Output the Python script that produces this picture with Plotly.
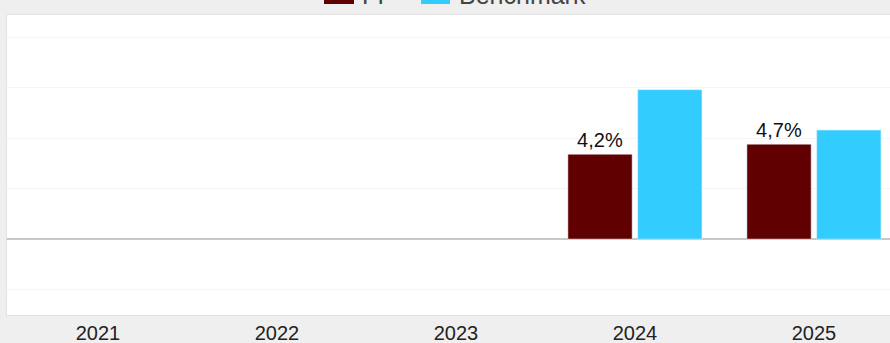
import plotly.graph_objects as go

years = ["2021", "2022", "2023", "2024", "2025"]
fund = [None, None, None, 4.2, 4.7]
benchmark = [None, None, None, 7.4, 5.4]
fund_labels = ["", "", "", "4,2%", "4,7%"]
series_names = ["FI", "Benchmark"]
series_colors = ["#600000", "#33ccff"]

fig = go.Figure()
fig.add_trace(go.Bar(x=years, y=fund, name=series_names[0], marker_color=series_colors[0],
                     text=fund_labels, textposition="outside",
                     textfont=dict(size=20, color="#111111"), cliponaxis=False))
fig.add_trace(go.Bar(x=years, y=benchmark, name=series_names[1], marker_color=series_colors[1]))

# legend sits above the plot and is mostly cut off by the top of the page
swatch_x = [(0.359, 0.393), (0.4689, 0.5017)]
label_x = [0.40, 0.5096]
for (x0, x1), lx, name, col in zip(swatch_x, label_x, series_names, series_colors):
    fig.add_shape(type="rect", xref="paper", yref="paper", x0=x0, x1=x1, y0=1.0367, y1=1.09,
                  fillcolor=col, line_width=0, layer="above")
    fig.add_annotation(xref="paper", yref="paper", x=lx, y=1.012, xanchor="left", yanchor="bottom",
                       text=name, showarrow=False, font=dict(size=25, color="#444444"))

fig.update_layout(
    width=890, height=343,
    margin=dict(l=7, r=0, t=15, b=28, autoexpand=False),
    paper_bgcolor="#efefef", plot_bgcolor="#ffffff",
    barmode="group", bargap=0.22, bargroupgap=0.08,
    font=dict(family="Arial, Liberation Sans, sans-serif", size=20, color="#222222"),
    showlegend=False,
)
fig.update_xaxes(range=[-0.508, 4.425], showgrid=False, zeroline=False, showline=True,
                 linecolor="#e2e2e2", mirror=True, ticks="", ticklabelstandoff=0,
                 tickfont=dict(size=20, color="#222222"))
fig.update_yaxes(range=[-3.76, 11.1], dtick=2.5, showticklabels=False,
                 gridcolor="#f5f5f5", zeroline=True, zerolinecolor="#c8c8c8", zerolinewidth=1.5,
                 showline=True, linecolor="#e2e2e2", mirror=True)

fig.write_html("out.html", config={"displayModeBar": False},
               post_script="document.body.style.margin='0';"
               "document.body.style.background='#efefef';")
